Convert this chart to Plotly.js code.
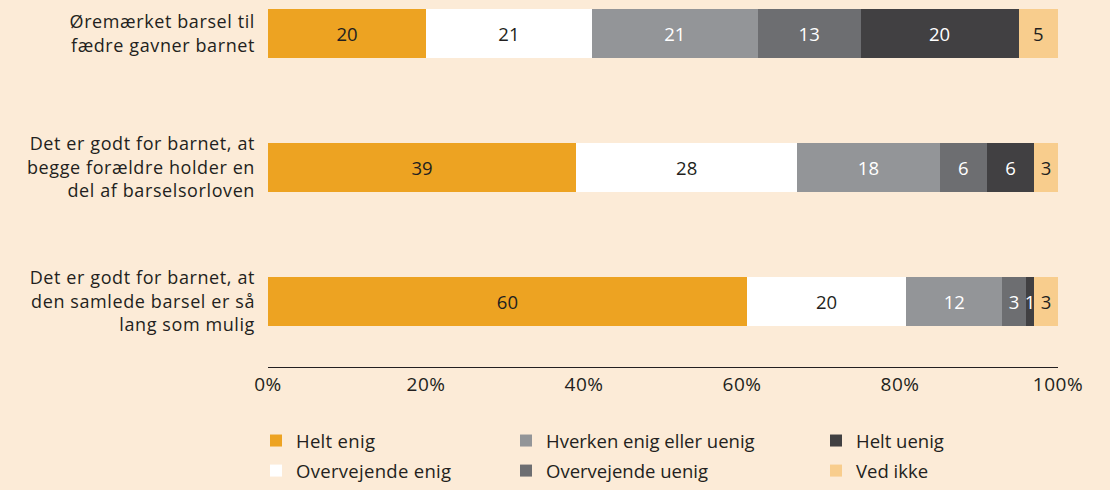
<!DOCTYPE html>
<html><head><meta charset="utf-8">
<script src="https://cdn.plot.ly/plotly-3.0.1.min.js"></script>
<style>
html,body{margin:0;padding:0;background:#FCEBD7;}
#chart{width:1110px;height:490px;}
#chart .ytick text{letter-spacing:0.6px;}
#chart .xtick text{letter-spacing:0.5px;}
#chart .legendtext{letter-spacing:0.3px;}
</style>
</head><body><div id="chart"></div>
<script>
const categories = [
  "Øremærket barsel til<br>fædre gavner barnet",
  "Det er godt for barnet, at<br>begge forældre holder en<br>del af barselsorloven",
  "Det er godt for barnet, at<br>den samlede barsel er så<br>lang som mulig"
];
const seriesNames = ["Helt enig","Overvejende enig","Hverken enig eller uenig","Overvejende uenig","Helt uenig","Ved ikke"];
const heltEnig = [20, 39, 60];
const overvejendeEnig = [21, 28, 20];
const hverken = [21, 18, 12];
const overvejendeUenig = [13, 6, 3];
const heltUenig = [20, 6, 1];
const vedIkke = [5, 3, 3];
const tickVals = [0, 20, 40, 60, 80, 100];
const tickText = ["0%","20%","40%","60%","80%","100%"];

const seriesValues = [heltEnig, overvejendeEnig, hverken, overvejendeUenig, heltUenig, vedIkke];
const colors = ["#EDA322","#FFFFFF","#939598","#6D6E71","#414042","#F8CD8D"];
const textColors = ["#231F20","#231F20","#FFFFFF","#FFFFFF","#FFFFFF","#231F20"];
const legendIds = ["legend","legend","legend2","legend2","legend3","legend3"];
const FONT = "Open Sans, Noto Sans, sans-serif";

const traces = seriesValues.map((vals, i) => ({
  type: "bar",
  orientation: "h",
  name: seriesNames[i],
  y: categories,
  x: vals,
  text: vals.map(String),
  texttemplate: "%{text}",
  textposition: "inside",
  insidetextanchor: "middle",
  textangle: 0,
  constraintext: "none",
  textfont: {family: FONT, size: 18.5, color: textColors[i]},
  marker: {color: colors[i], line: {width: 0}},
  width: 0.366,
  legend: legendIds[i],
  legendgroup: "g" + i,
  hoverinfo: "skip"
}));

const legendBase = {
  orientation: "v",
  bgcolor: "rgba(0,0,0,0)",
  borderwidth: 0,
  font: {family: FONT, size: 18.5, color: "#231F20"},
  traceorder: "grouped",
  tracegroupgap: 3,
  xanchor: "left",
  yanchor: "top",
  y: -0.1512
};

const layout = {
  width: 1110,
  height: 490,
  paper_bgcolor: "#FCEBD7",
  plot_bgcolor: "#FCEBD7",
  margin: {l: 268, r: 52, t: 0, b: 123, pad: 0},
  barmode: "stack",
  barnorm: "percent",
  showlegend: true,
  font: {family: FONT, size: 18, color: "#231F20"},
  xaxis: {
    range: [0, 100],
    tickvals: tickVals,
    ticktext: tickText,
    showgrid: false,
    zeroline: false,
    showline: true,
    linecolor: "#231F20",
    linewidth: 1,
    ticks: "",
    automargin: false,
    fixedrange: true,
    tickfont: {family: FONT, size: 19, color: "#231F20"}
  },
  yaxis: {
    type: "category",
    categoryorder: "array",
    categoryarray: categories,
    range: [2.49, -0.252],
    showgrid: false,
    zeroline: false,
    showline: false,
    ticks: "",
    ticklabelstandoff: 12,
    automargin: false,
    fixedrange: true,
    tickfont: {family: FONT, size: 18, color: "#231F20"}
  },
  legend: Object.assign({}, legendBase, {x: -0.0152}),
  legend2: Object.assign({}, legendBase, {x: 0.3013}),
  legend3: Object.assign({}, legendBase, {x: 0.6937})
};

Plotly.newPlot("chart", traces, layout, {staticPlot: true, displayModeBar: false});
</script>
</body></html>
